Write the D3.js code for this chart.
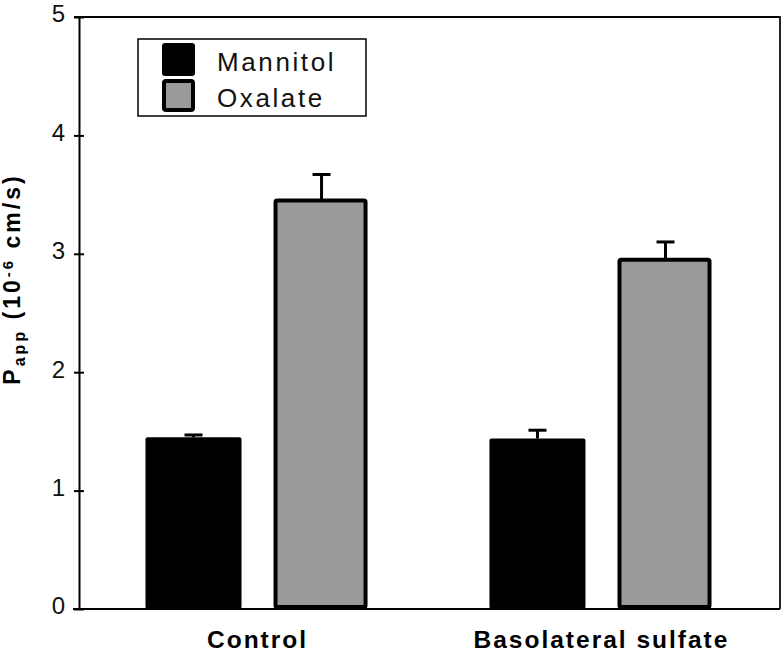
<!DOCTYPE html>
<html>
<head>
<meta charset="utf-8">
<script src="https://cdn.jsdelivr.net/npm/d3@7"></script>
<style>
  html, body { margin: 0; padding: 0; background: #fff; }
  svg { display: block; font-family: "Liberation Sans", Arial, Helvetica, sans-serif; }
</style>
</head>
<body>
<svg id="chart" width="783" height="653"></svg>
<script>
// ---- data ----
const categories = ["Control", "Basolateral sulfate"];
const series = ["Mannitol", "Oxalate"];
const mannitolValues = [1.45, 1.44];
const mannitolErrors = [0.02, 0.07];
const oxalateValues = [3.45, 2.95];
const oxalateErrors = [0.22, 0.15];
const yTicks = [0, 1, 2, 3, 4, 5];

const seriesData = {
  Mannitol: { values: mannitolValues, errors: mannitolErrors, fill: "#000000" },
  Oxalate: { values: oxalateValues, errors: oxalateErrors, fill: "#9a9a9a" }
};

// ---- layout ----
const svg = d3.select("#chart");
const mL = 79, mR = 780, mT = 17, mB = 609;

const y = d3.scaleLinear().domain([0, 5]).range([mB, mT]);
const x0 = d3.scaleBand().domain(categories).range([mL, mR])
  .paddingInner(0.33).paddingOuter(0.184);
const x1 = d3.scaleBand().domain(series).range([0, x0.bandwidth()])
  .paddingInner(0.25).paddingOuter(0.025);

// ---- bars ----
const rows = [];
categories.forEach((c, i) => {
  series.forEach(s => {
    rows.push({ cat: c, ser: s, v: seriesData[s].values[i], e: seriesData[s].errors[i] });
  });
});

const bw = x1.bandwidth();
const g = svg.append("g");

// error bars (drawn behind bars)
rows.forEach(d => {
  const cx = x0(d.cat) + x1(d.ser) + bw / 2;
  g.append("line")
    .attr("x1", cx).attr("x2", cx)
    .attr("y1", y(d.v)).attr("y2", y(d.v + d.e))
    .attr("stroke", "#000").attr("stroke-width", 3);
  g.append("line")
    .attr("x1", cx - 9).attr("x2", cx + 9)
    .attr("y1", y(d.v + d.e)).attr("y2", y(d.v + d.e))
    .attr("stroke", "#000").attr("stroke-width", 3);
});

rows.forEach(d => {
  const bx = x0(d.cat) + x1(d.ser);
  if (d.ser === "Mannitol") {
    g.append("rect")
      .attr("x", bx).attr("y", y(d.v))
      .attr("width", bw).attr("height", y(0) - y(d.v))
      .attr("rx", 2)
      .attr("fill", seriesData[d.ser].fill);
  } else {
    g.append("rect")
      .attr("x", bx + 2).attr("y", y(d.v))
      .attr("width", bw - 6).attr("height", y(0) - y(d.v) - 2)
      .attr("rx", 1.5)
      .attr("fill", seriesData[d.ser].fill)
      .attr("stroke", "#000").attr("stroke-width", 4);
  }
});

// ---- frame ----
svg.append("line").attr("x1", mL - 5).attr("x2", mR).attr("y1", mT).attr("y2", mT)
  .attr("stroke", "#000").attr("stroke-width", 2);
svg.append("line").attr("x1", mR).attr("x2", mR).attr("y1", mT - 1).attr("y2", mB)
  .attr("stroke", "#222").attr("stroke-width", 2);
svg.append("line").attr("x1", mL - 6).attr("x2", mR).attr("y1", mB).attr("y2", mB)
  .attr("stroke", "#000").attr("stroke-width", 2);

// ---- y axis ----
const yAxis = d3.axisLeft(y).tickValues(yTicks).tickSizeInner(5).tickSizeOuter(0).tickPadding(9)
  .tickFormat(d3.format("d"));
const ax = svg.append("g").attr("transform", `translate(${mL},0)`).call(yAxis);
ax.select(".domain").attr("stroke", "#000").attr("stroke-width", 2);
ax.selectAll(".tick line").attr("x1", 5).attr("stroke", "#000").attr("stroke-width", 2);
ax.selectAll(".tick text")
  .attr("dy", "0.2em")
  .style("font-size", "24px")
  .style("font-family", "'Liberation Sans', Arial, Helvetica, sans-serif")
  .attr("fill", "#111");

// ---- category labels ----
svg.append("g").selectAll("text").data(categories).join("text")
  .attr("x", d => x0(d) + x0.bandwidth() / 2)
  .attr("y", 648)
  .attr("text-anchor", "middle")
  .style("font-size", "24.5px")
  .style("font-weight", "bold")
  .style("letter-spacing", "2px")
  .text(d => d);

// ---- y title ----
const yt = svg.append("text")
  .attr("transform", "translate(19.5,279) rotate(-90)")
  .attr("text-anchor", "middle")
  .style("font-size", "23px")
  .style("font-weight", "bold")
  .style("letter-spacing", "3px");
yt.append("tspan").text("P");
yt.append("tspan").attr("dy", 5).style("font-size", "16px").text("app");
yt.append("tspan").attr("dy", -5).text(" (10");
yt.append("tspan").attr("dy", -7).style("font-size", "15px").text("-6");
yt.append("tspan").attr("dy", 7).text(" cm/s)");

// ---- legend ----
const lg = svg.append("g");
lg.append("rect").attr("x", 138).attr("y", 39).attr("width", 228).attr("height", 77)
  .attr("fill", "#fff").attr("stroke", "#000").attr("stroke-width", 1.5);
series.forEach((s, i) => {
  const ry = 43 + i * 36;
  if (s === "Mannitol") {
    lg.append("rect").attr("x", 162).attr("y", ry).attr("width", 33).attr("height", 33)
      .attr("rx", 3).attr("fill", seriesData[s].fill);
  } else {
    lg.append("rect").attr("x", 164).attr("y", ry + 2).attr("width", 29).attr("height", 29)
      .attr("rx", 2).attr("fill", seriesData[s].fill).attr("stroke", "#000").attr("stroke-width", 4);
  }
  lg.append("text").attr("x", 217).attr("y", ry + 28)
    .style("font-size", "26px").style("letter-spacing", "2.6px").attr("fill", "#111")
    .text(s);
});
</script>
</body>
</html>
